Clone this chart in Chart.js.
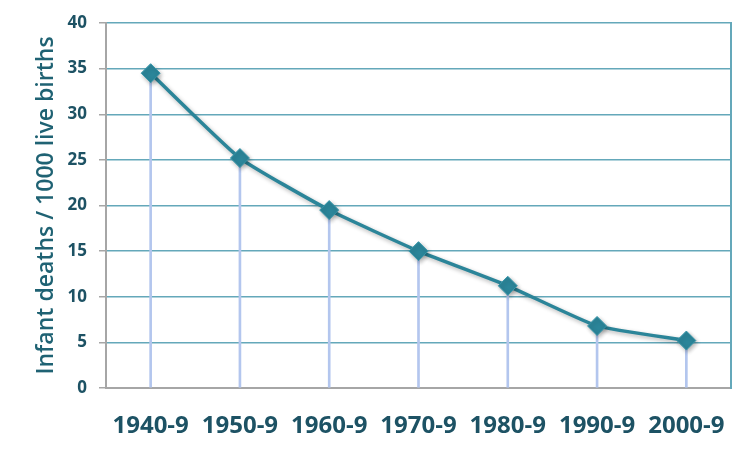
<!DOCTYPE html>
<html>
<head>
<meta charset="utf-8">
<script src="https://cdn.jsdelivr.net/npm/chart.js@4/dist/chart.umd.min.js"></script>
<style>
  html, body { margin: 0; padding: 0; background: #ffffff; }
  #wrap { width: 754px; height: 453px; }
</style>
</head>
<body>
<div id="wrap"><canvas id="c" width="754" height="453"></canvas></div>
<script>
const categories = ["1940-9", "1950-9", "1960-9", "1970-9", "1980-9", "1990-9", "2000-9"];
const infantDeaths = [34.5, 25.2, 19.5, 15.0, 11.2, 6.8, 5.2];
const yTicks = [0, 5, 10, 15, 20, 25, 30, 35, 40];
const yTitle = "Infant deaths / 1000 live births";

const teal = "#2B8599";
const labelColor = "#1D5264";

const markerShadow = {
  id: "markerShadow",
  beforeDatasetDraw(chart, args) {
    if (args.index === 0) {
      const ctx = chart.ctx;
      ctx.save();
      ctx.shadowColor = "rgba(0,0,0,0.3)";
      ctx.shadowBlur = 4;
      ctx.shadowOffsetX = 1.5;
      ctx.shadowOffsetY = 2;
    }
  },
  afterDatasetDraw(chart, args) {
    if (args.index === 0) chart.ctx.restore();
  }
};

new Chart(document.getElementById("c"), {
  data: {
    labels: categories,
    datasets: [
      {
        type: "line",
        data: infantDeaths,
        borderColor: teal,
        borderWidth: 3.5,
        tension: 0.15,
        pointStyle: "rectRot",
        pointRadius: 9.5,
        pointBackgroundColor: teal,
        pointBorderColor: "#3796AA",
        pointBorderWidth: 1,
        order: 0
      },
      {
        type: "bar",
        data: infantDeaths,
        backgroundColor: "#B3C6EE",
        barThickness: 2,
        order: 1
      }
    ]
  },
  plugins: [markerShadow],
  options: {
    responsive: false,
    animation: false,
    devicePixelRatio: 1,
    layout: { padding: { top: 23, right: 23, left: 33, bottom: 0 } },
    plugins: { legend: { display: false }, tooltip: { enabled: false } },
    scales: {
      x: {
        type: "category",
        offset: true,
        grid: { display: false, drawTicks: false },
        border: { display: true, color: "#A6A6A6", width: 2 },
        ticks: {
          color: labelColor,
          padding: 24,
          maxRotation: 0,
          font: { family: "Open Sans", size: 24, weight: "bold" }
        },
        afterFit: (s) => { s.height = 65; }
      },
      y: {
        min: 0,
        max: 40,
        afterBuildTicks: (s) => { s.ticks = yTicks.map(v => ({ value: v })); },
        grid: { color: "#64A8BA", lineWidth: 1.5, tickColor: "#A6A6A6", tickLength: 7 },
        border: { display: true, color: "#A6A6A6", width: 2 },
        ticks: {
          color: labelColor,
          padding: 12,
          font: { family: "Open Sans", size: 17, weight: "bold" }
        },
        title: {
          display: true,
          text: yTitle,
          color: "#1F6273",
          padding: { top: 0, bottom: 0 },
          font: { family: "Open Sans", size: 23, weight: "600" }
        },
        afterFit: (s) => { s.width = 73; }
      },
      y2: {
        position: "right",
        min: 0,
        max: 40,
        grid: { display: false, drawTicks: false },
        ticks: { display: false },
        border: { display: true, color: "#64A8BA", width: 2 },
        afterFit: (s) => { s.width = 0; }
      }
    }
  }
});
</script>
</body>
</html>
